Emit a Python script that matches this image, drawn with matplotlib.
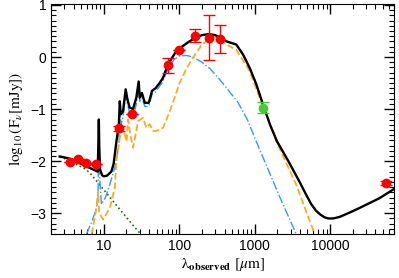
import numpy as np
import matplotlib
matplotlib.use('Agg')
import matplotlib.pyplot as plt
from matplotlib.ticker import LogLocator, MultipleLocator, FixedLocator, FixedFormatter

# total model
black_wl = [2.6, 3.3, 4.0, 5.0, 6.5, 7.5, 8.0, 8.3, 8.5, 8.6, 8.7, 8.9, 9.5, 10, 11, 12.6, 13.5, 14.2,
            14.7, 15.3, 15.8, 16.3, 16.8, 18, 19.5, 20.5, 22, 24.4, 27, 29, 30, 32, 35, 39.5, 43.6,
            48.5, 55, 61, 71, 80, 92, 100, 130, 160, 200, 248, 300, 344, 422, 571, 700, 860, 1050,
            1290, 1600, 1980, 2800, 3950, 4800, 5600, 6500, 7500, 8500, 9500, 11000, 13400, 18000,
            24500, 35000, 45300, 75000]
black_y = [-1.91, -1.94, -1.98, -2.05, -2.13, -2.17, -2.19, -2.2, -1.6, -1.2, -1.7, -2.15, -2.27,
           -2.29, -2.28, -2.2, -2.05, -1.8, -1.62, -1.45, -1.33, -0.85, -1.1, -1.04, -0.62, -0.8,
           -0.97, -1.0, -0.78, -0.47, -0.78, -0.69, -0.88, -0.88, -0.65, -0.6, -0.5, -0.4, -0.14,
           -0.02, 0.12, 0.16, 0.28, 0.36, 0.42, 0.44, 0.42, 0.38, 0.3, 0.24, 0.05, -0.21, -0.52,
           -0.91, -1.3, -1.62, -2.0, -2.4, -2.64, -2.82, -2.95, -3.03, -3.08, -3.1, -3.1, -3.07,
           -2.99, -2.9, -2.79, -2.71, -2.51]

# hot dust / AGN
blue_wl = [5.9, 7.0, 8.0, 8.4, 8.6, 8.8, 9.3, 10.5, 12, 13.5, 14.7, 15.9, 16.3, 17, 18, 19.5,
           21, 22, 25, 27, 29, 30, 32, 35, 39.5, 43.6, 48.5, 61, 71, 85, 100, 125, 152, 200, 254,
           330, 422, 600, 800, 1050, 1500, 2140, 3560]
blue_y = [-3.4, -3.15, -2.9, -2.6, -1.35, -2.3, -2.83, -2.7, -2.45, -2.2, -2.0, -1.62, -1.0,
          -1.3, -1.15, -0.75, -0.95, -1.07, -1.1, -0.9, -0.6, -0.85, -0.78, -0.95, -0.95, -0.72,
          -0.67, -0.47, -0.22, -0.05, 0.02, 0.03, 0.0, -0.1, -0.22, -0.4, -0.59, -0.87, -1.2,
          -1.62, -2.15, -2.68, -3.4]

# cold dust / starburst
orange_wl = [6.9, 8.0, 8.4, 8.7, 9.8, 12, 14, 14.7, 16.3, 18, 20, 21, 22.5, 24.5, 28.5, 33,
             36.7, 40.6, 45, 50, 61, 75, 87, 101, 125, 152, 196, 253, 300, 344, 422, 571, 860,
             1290, 1980, 3560, 6240]
orange_y = [-3.4, -2.9, -2.58, -3.0, -3.12, -2.9, -2.51, -2.0, -1.55, -1.36, -1.62, -1.2, -1.5,
            -1.74, -1.23, -1.17, -1.36, -1.29, -1.42, -1.42, -1.36, -1.04, -0.78, -0.5, -0.22,
            -0.01, 0.22, 0.36, 0.38, 0.36, 0.24, 0.14, -0.27, -0.95, -1.65, -2.45, -3.4]

# stars
green_wl = [2.6, 3.5, 4.35, 5.5, 6.5, 8, 10, 13.3, 18, 24, 30]
green_y = [-1.92, -1.98, -2.06, -2.14, -2.22, -2.38, -2.55, -2.77, -3.0, -3.22, -3.38]

# photometry
obs_wl = [3.6, 4.5, 5.8, 8.0, 16, 24, 70, 100, 160, 250, 350, 55000]
obs_y = [-2.02, -1.95, -2.03, -2.05, -1.37, -1.09, -0.16, 0.13, 0.41, 0.37, 0.34, -2.42]
obs_err = [0, 0, 0, 0, 0.05, 0, 0.14, 0, 0.12, 0.43, 0.27, 0.04]
mm_wl = [1280]
mm_y = [-0.97]
mm_err = [0.11]

plt.rcParams['font.family'] = ['Liberation Sans', 'DejaVu Sans']
plt.rcParams['mathtext.fontset'] = 'stix'

fig = plt.figure(figsize=(3.99, 2.78), dpi=100)
ax = fig.add_axes([0.128, 0.158, 0.859, 0.828])

ax.plot(green_wl, green_y, color='#1a6e1a', ls=':', lw=1.2)
ax.plot(blue_wl, blue_y, color='#3399ff', ls='-.', lw=1.0)
ax.plot(orange_wl, orange_y, color='#ffaa22', ls='--', lw=1.3)
ax.plot(black_wl, black_y, 'k', lw=1.7)

ax.errorbar(obs_wl, obs_y, yerr=obs_err, fmt='o', color='red', ms=6, capsize=4,
            elinewidth=1.0, capthick=1.0, zorder=5)
ax.errorbar(mm_wl, mm_y, yerr=mm_err, fmt='o', color='#44cc33', ms=6, capsize=4,
            elinewidth=1.0, capthick=1.0, zorder=5)

ax.set_xscale('log')
ax.set_xlim(2.0, 70000)
ax.set_ylim(-3.4, 1.02)

ax.xaxis.set_major_locator(FixedLocator([10, 100, 1000, 10000]))
ax.xaxis.set_major_formatter(FixedFormatter(['10', '100', '1000', '10000']))
ax.xaxis.set_minor_locator(LogLocator(base=10, subs=np.arange(2, 10)))
ax.yaxis.set_minor_locator(MultipleLocator(0.1))
ax.tick_params(which='both', direction='in', top=True, right=True, labelsize=10)
ax.tick_params(which='major', length=7, width=1)
ax.tick_params(which='minor', length=3.5, width=0.8)
ax.set_yticks([1, 0, -1, -2, -3])
ax.set_yticklabels(['1', '0', '\u22121', '\u22122', '\u22123'])

ax.set_ylabel(r'$\log_{10}(\mathrm{F}_\nu[\mathrm{mJy}])$', fontsize=11, labelpad=4)
ax.set_xlabel(r'$\mathrm{\lambda}_{\mathbf{observed}}\ [\mu\mathrm{m}]$', fontsize=11, labelpad=2)

fig.savefig('out.png', dpi=100)
